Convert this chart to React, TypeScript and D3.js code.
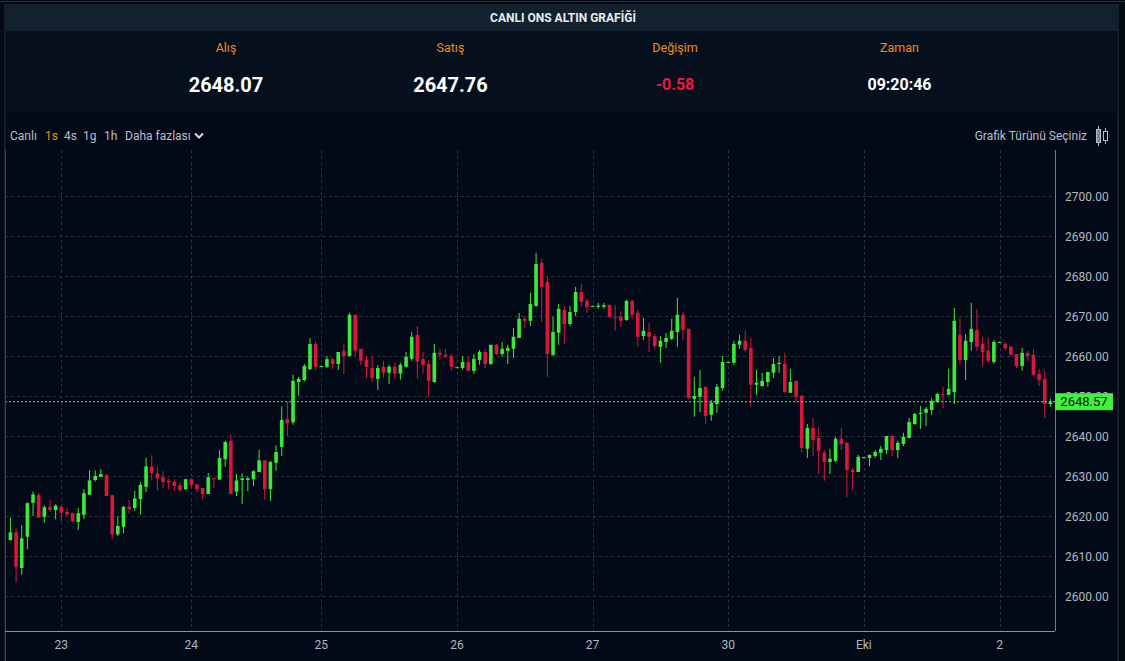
import * as d3 from 'd3';

// hourly candles (oldest first)
const OPEN = [
  2614.0, 2615.9, 2607.0, 2614.8, 2623.3, 2625.2, 2619.8, 2622.3, 2621.5, 2622.3,
  2621.0, 2620.7, 2618.5, 2620.3, 2625.3, 2629.0, 2629.8, 2630.2, 2625.2, 2615.4,
  2617.3, 2622.3, 2622.0, 2624.2, 2627.3, 2632.4, 2630.7, 2629.7, 2628.8, 2628.5,
  2627.7, 2626.7, 2629.2, 2627.9, 2627.0, 2625.5, 2629.5, 2629.1, 2634.2, 2638.8,
  2626.1, 2629.0, 2629.0, 2629.2, 2631.0, 2633.9, 2626.7, 2633.3, 2637.3, 2644.2,
  2643.4, 2653.5, 2654.0, 2656.7, 2663.0, 2657.3, 2657.3, 2659.2, 2658.0, 2661.3,
  2660.0, 2670.3, 2661.8, 2659.0, 2657.0, 2654.3, 2657.3, 2655.8, 2657.3, 2655.6,
  2657.3, 2659.3, 2665.3, 2659.3, 2658.0, 2653.5, 2660.8, 2660.3, 2660.0, 2657.1,
  2657.0, 2658.5, 2656.3, 2659.0, 2661.0, 2658.0, 2662.8, 2660.5, 2661.3, 2661.8,
  2664.5, 2669.3, 2668.8, 2672.5, 2683.3, 2678.5, 2660.3, 2665.8, 2671.5, 2668.0,
  2671.0, 2676.0, 2673.8, 2672.4, 2672.3, 2672.3, 2672.8, 2669.8, 2669.8, 2669.0,
  2673.8, 2670.8, 2665.0, 2666.0, 2665.0, 2662.3, 2663.5, 2664.3, 2666.0, 2670.3,
  2666.8, 2649.3, 2649.8, 2652.3, 2645.3, 2648.0, 2652.0, 2658.4, 2658.3, 2662.8,
  2663.8, 2662.0, 2652.8, 2652.5, 2653.5, 2655.8, 2658.0, 2658.0, 2650.8, 2653.8,
  2650.0, 2636.8, 2642.0, 2639.5, 2635.8, 2633.5, 2633.8, 2639.3, 2638.3, 2631.5,
  2631.0, 2634.6, 2634.5, 2635.0, 2635.8, 2636.5, 2640.0, 2636.5, 2638.0, 2639.5,
  2643.0, 2645.5, 2645.8, 2646.5, 2648.5, 2650.5, 2650.3, 2651.0, 2665.3, 2659.0,
  2663.5, 2666.5, 2663.0, 2661.3, 2658.5, 2663.4, 2663.0, 2662.3, 2660.5, 2657.5,
  2660.8, 2660.3, 2655.5, 2654.3, 2648.0,
];
const HIGH = [
  2619.6, 2616.9, 2617.7, 2623.4, 2626.1, 2625.9, 2622.7, 2624.0, 2622.9, 2622.5,
  2622.0, 2620.8, 2622.0, 2626.7, 2631.4, 2631.4, 2631.7, 2630.5, 2625.3, 2620.0,
  2622.5, 2624.0, 2626.3, 2628.5, 2634.6, 2635.2, 2632.4, 2631.2, 2629.4, 2629.2,
  2628.4, 2629.2, 2629.4, 2628.0, 2627.1, 2630.7, 2629.6, 2636.5, 2638.8, 2640.4,
  2630.5, 2630.7, 2629.9, 2631.4, 2636.5, 2633.9, 2633.8, 2637.7, 2647.4, 2648.6,
  2655.3, 2654.8, 2658.0, 2664.5, 2663.8, 2657.6, 2660.0, 2659.5, 2661.0, 2663.0,
  2670.8, 2670.3, 2661.8, 2660.0, 2660.0, 2657.8, 2658.8, 2657.8, 2658.3, 2658.3,
  2661.0, 2666.0, 2667.5, 2661.0, 2659.0, 2663.0, 2661.8, 2661.8, 2660.5, 2657.3,
  2660.0, 2659.8, 2660.5, 2661.5, 2661.8, 2662.8, 2663.0, 2663.5, 2662.8, 2667.0,
  2670.8, 2670.0, 2675.8, 2685.8, 2684.3, 2679.8, 2669.8, 2673.0, 2672.5, 2672.5,
  2677.3, 2678.0, 2674.3, 2672.6, 2673.3, 2673.3, 2672.8, 2672.8, 2671.0, 2674.0,
  2674.0, 2671.5, 2669.5, 2668.3, 2665.5, 2665.0, 2665.8, 2669.3, 2674.5, 2671.0,
  2666.8, 2654.8, 2656.5, 2652.3, 2649.0, 2653.0, 2660.0, 2658.6, 2663.8, 2665.3,
  2666.3, 2664.5, 2656.5, 2655.8, 2656.0, 2659.5, 2660.0, 2660.8, 2656.8, 2653.8,
  2650.3, 2643.0, 2644.5, 2642.3, 2636.5, 2636.8, 2639.8, 2642.0, 2638.5, 2632.0,
  2635.3, 2634.8, 2635.3, 2636.5, 2637.5, 2640.0, 2640.3, 2638.8, 2640.8, 2644.5,
  2645.8, 2647.5, 2647.3, 2649.5, 2650.8, 2652.3, 2656.8, 2672.0, 2669.5, 2665.5,
  2673.3, 2671.8, 2664.8, 2664.5, 2664.0, 2663.6, 2663.5, 2662.5, 2660.5, 2662.0,
  2661.3, 2661.8, 2656.8, 2656.3, 2649.3,
];
const LOW = [
  2613.8, 2603.4, 2605.3, 2611.7, 2620.0, 2619.5, 2618.3, 2621.0, 2619.2, 2618.8,
  2620.0, 2618.5, 2616.5, 2619.2, 2625.3, 2628.6, 2629.6, 2625.0, 2614.2, 2615.0,
  2615.7, 2620.6, 2621.3, 2620.3, 2626.0, 2628.9, 2626.3, 2627.0, 2626.7, 2626.3,
  2626.0, 2626.5, 2626.9, 2626.0, 2624.2, 2625.5, 2627.0, 2629.0, 2632.3, 2625.5,
  2625.0, 2623.0, 2626.2, 2627.5, 2631.0, 2624.0, 2623.8, 2631.3, 2635.0, 2640.0,
  2642.8, 2650.1, 2653.6, 2656.5, 2656.5, 2657.2, 2657.0, 2656.8, 2656.5, 2655.5,
  2659.8, 2660.0, 2657.8, 2654.5, 2653.5, 2651.5, 2654.6, 2653.0, 2654.3, 2654.1,
  2657.1, 2658.8, 2654.3, 2655.6, 2649.8, 2653.3, 2659.1, 2659.6, 2656.3, 2657.0,
  2656.6, 2656.3, 2655.5, 2657.8, 2657.0, 2657.8, 2660.3, 2659.8, 2658.0, 2659.5,
  2664.5, 2667.0, 2667.5, 2672.3, 2668.5, 2654.8, 2660.0, 2662.8, 2663.0, 2667.5,
  2670.0, 2672.3, 2670.8, 2672.3, 2671.8, 2671.8, 2669.5, 2666.3, 2667.3, 2668.8,
  2669.3, 2662.3, 2664.0, 2661.0, 2661.8, 2658.3, 2662.0, 2664.0, 2662.3, 2664.0,
  2649.3, 2644.8, 2646.0, 2643.0, 2643.8, 2645.8, 2651.3, 2658.3, 2657.8, 2661.8,
  2661.0, 2647.3, 2650.3, 2652.3, 2652.3, 2654.5, 2655.8, 2650.8, 2650.8, 2648.3,
  2635.8, 2634.5, 2635.0, 2630.5, 2628.8, 2630.5, 2633.5, 2636.5, 2624.8, 2626.5,
  2631.0, 2634.5, 2632.5, 2634.5, 2634.0, 2635.5, 2635.0, 2634.5, 2637.5, 2639.5,
  2642.8, 2641.8, 2642.5, 2645.3, 2648.3, 2647.0, 2650.3, 2648.0, 2657.8, 2654.0,
  2661.3, 2661.3, 2657.5, 2658.3, 2658.0, 2663.3, 2661.3, 2660.3, 2657.0, 2656.3,
  2658.8, 2655.0, 2652.5, 2644.5, 2647.3,
];
const CLOSE = [
  2615.9, 2607.3, 2614.4, 2623.2, 2625.4, 2619.6, 2622.2, 2621.5, 2622.6, 2620.8,
  2620.4, 2618.7, 2620.7, 2625.7, 2628.9, 2630.0, 2630.5, 2625.0, 2615.4, 2617.5,
  2622.3, 2621.7, 2624.4, 2627.8, 2632.4, 2630.7, 2629.4, 2628.5, 2628.4, 2627.5,
  2626.5, 2629.2, 2627.7, 2626.7, 2625.5, 2629.7, 2629.2, 2634.5, 2638.5, 2625.5,
  2628.9, 2629.4, 2629.4, 2631.2, 2633.9, 2626.7, 2633.5, 2636.0, 2644.0, 2643.2,
  2653.8, 2654.3, 2657.5, 2663.0, 2657.3, 2657.5, 2659.2, 2658.0, 2661.0, 2660.0,
  2670.3, 2661.3, 2658.8, 2657.3, 2654.5, 2657.0, 2655.8, 2657.3, 2655.6, 2657.8,
  2659.8, 2664.8, 2658.6, 2657.8, 2653.8, 2660.8, 2660.3, 2659.8, 2657.3, 2657.2,
  2658.5, 2656.3, 2659.3, 2661.0, 2658.0, 2662.8, 2660.5, 2661.8, 2662.0, 2664.8,
  2669.3, 2668.8, 2673.0, 2683.0, 2677.3, 2660.5, 2666.0, 2671.8, 2668.0, 2671.0,
  2676.0, 2673.5, 2672.3, 2672.5, 2672.6, 2672.7, 2669.8, 2669.6, 2668.8, 2673.8,
  2670.3, 2664.8, 2666.3, 2664.8, 2662.5, 2663.8, 2664.5, 2666.3, 2670.3, 2666.5,
  2649.5, 2650.0, 2652.0, 2645.0, 2648.3, 2652.3, 2658.5, 2658.5, 2663.0, 2663.8,
  2661.5, 2652.8, 2653.3, 2653.8, 2656.0, 2658.0, 2658.3, 2651.0, 2653.5, 2649.8,
  2637.0, 2642.0, 2639.0, 2636.3, 2633.5, 2634.3, 2639.3, 2638.0, 2631.5, 2631.0,
  2634.8, 2634.7, 2635.3, 2636.0, 2636.8, 2640.0, 2636.5, 2638.3, 2639.8, 2643.5,
  2645.5, 2645.8, 2646.8, 2648.8, 2650.5, 2650.3, 2651.8, 2668.8, 2659.0, 2663.8,
  2666.8, 2662.3, 2661.0, 2658.8, 2663.5, 2663.5, 2662.0, 2660.3, 2657.5, 2660.8,
  2660.0, 2655.3, 2654.0, 2648.0, 2648.57,
];

const DAY_TICK_INDEX = [9, 32, 55, 79, 103, 127, 151, 175];
const DAY_TICK_LABEL = ['23', '24', '25', '26', '27', '30', 'Eki', '2'];
const PRICE_TICKS = [2600, 2610, 2620, 2630, 2640, 2650, 2660, 2670, 2680, 2690, 2700];
const LAST_PRICE = 2648.57;

const STAT_LABELS = ['Alış', 'Satış', 'Değişim', 'Zaman'];
const STAT_VALUES = ['2648.07', '2647.76', '-0.58', '09:20:46'];
const PERIODS = ['Canlı', '1s', '4s', '1g', '1h', 'Daha fazlası'];
const ACTIVE_PERIOD = '1s';

const W = 1125;
const H = 661;
const PLOT = { left: 5, right: 1055, top: 150, bottom: 631 };
const STEP = 5.652;
const FIRST_X = 10.43;

const GREEN = '#3be83b';
const RED = '#d9163b';
const FONT = 'Roboto, "Noto Sans", sans-serif';

export default function App() {
  const n = CLOSE.length;
  const x = d3
    .scaleBand<number>()
    .domain(d3.range(n))
    .range([FIRST_X - STEP / 2, FIRST_X - STEP / 2 + n * STEP])
    .padding(0);
  const cx = (i: number) => (x(i) ?? 0) + x.bandwidth() / 2;
  const bodyW = x.bandwidth() * 0.64;

  const y = d3
    .scaleLinear()
    .domain([2660 - (PLOT.bottom - 356) / 4, 2660 + (356 - PLOT.top) / 4])
    .range([PLOT.bottom, PLOT.top]);

  const statX = d3.scaleLinear().domain([0, 1]).range([226, 450.5]);
  const periodX = [10, 45, 64, 83, 104, 125];
  const lastY = y(LAST_PRICE);

  return (
    <svg
      width={W}
      height={H}
      style={{ position: 'fixed', left: 0, top: 0, background: '#050b15' }}
      fontFamily={FONT}
    >
      <rect x={0} y={0} width={W} height={H} fill="#040a14" />
      <line x1={0} x2={W} y1={1.5} y2={1.5} stroke="#2b3240" />
      {/* card */}
      <rect x={5} y={5} width={1113} height={H} fill="#020a18" stroke="#2a3442" />
      <rect x={5.5} y={5.5} width={1112} height={26} fill="#13202e" />
      <text x={563} y={22} textAnchor="middle" fill="#e8ebef" fontSize={12} fontWeight={700}>
        CANLI ONS ALTIN GRAFİĞİ
      </text>
      <rect x={5.5} y={31} width={1112} height={82} fill="#06101d" />
      {STAT_LABELS.map((label, i) => (
        <g key={label}>
          <text x={statX(i)} y={52} textAnchor="middle" fill="#f08a22" fontSize={12.5}>
            {label}
          </text>
          <text
            x={statX(i)}
            y={i < 2 ? 92 : 90}
            textAnchor="middle"
            fill={STAT_VALUES[i].startsWith('-') ? '#ea1a3d' : '#ffffff'}
            fontSize={i < 2 ? 20 : 16}
            fontWeight={700}
          >
            {STAT_VALUES[i]}
          </text>
        </g>
      ))}

      {/* toolbar */}
      {PERIODS.map((p, i) => (
        <text
          key={p}
          x={periodX[i]}
          y={140}
          fill={p === ACTIVE_PERIOD ? '#f28a1c' : '#b9bec7'}
          fontSize={12}
        >
          {p}
        </text>
      ))}
      <path d="M195,133.5 L199,137.5 L203,133.5" fill="none" stroke="#d8dce2" strokeWidth={2} />
      <text x={1087} y={140} textAnchor="end" fill="#b9bec7" fontSize={12}>
        Grafik Türünü Seçiniz
      </text>
      <g stroke="#b9bec7" strokeWidth={1} fill="none">
        <line x1={1098.5} x2={1098.5} y1={126} y2={146} />
        <rect x={1096.5} y={129.5} width={4} height={13} fill="#7d838c" />
        <line x1={1105.5} x2={1105.5} y1={128} y2={144} />
        <rect x={1103.5} y={131.5} width={4} height={9} fill="#020a18" />
      </g>

      {/* grid */}
      <g stroke="#2a3343" strokeDasharray="3,3" strokeWidth={1}>
        {PRICE_TICKS.map((v) => (
          <line key={v} x1={PLOT.left} x2={PLOT.right} y1={Math.round(y(v)) + 0.5} y2={Math.round(y(v)) + 0.5} />
        ))}
        {DAY_TICK_INDEX.map((i) => (
          <line key={i} x1={Math.round(cx(i)) + 0.5} x2={Math.round(cx(i)) + 0.5} y1={PLOT.top} y2={PLOT.bottom} />
        ))}
      </g>

      {/* candles */}
      {CLOSE.map((c, i) => {
        const o = OPEN[i];
        const up = c >= o;
        const color = up ? GREEN : RED;
        const top = y(Math.max(o, c));
        const bot = y(Math.min(o, c));
        return (
          <g key={i}>
            <line x1={cx(i)} x2={cx(i)} y1={y(HIGH[i])} y2={y(LOW[i])} stroke={color} strokeWidth={1} />
            <rect x={cx(i) - bodyW / 2} y={top} width={bodyW} height={Math.max(1, bot - top)} fill={color} />
          </g>
        );
      })}

      {/* last price line */}
      <line
        x1={PLOT.left}
        x2={PLOT.right}
        y1={lastY}
        y2={lastY}
        stroke="#5ef05e"
        strokeDasharray="2,2"
        strokeWidth={1}
      />

      {/* axes */}
      <line x1={PLOT.left + 0.5} x2={PLOT.left + 0.5} y1={PLOT.top} y2={H} stroke="#3a4352" />
      <line x1={PLOT.right + 0.5} x2={PLOT.right + 0.5} y1={PLOT.top} y2={PLOT.bottom} stroke="#737a86" />
      <line x1={PLOT.left} x2={PLOT.right} y1={PLOT.bottom + 0.5} y2={PLOT.bottom + 0.5} stroke="#8a909b" />
      {PRICE_TICKS.map((v) => (
        <text key={v} x={1065} y={y(v) + 4.5} fill="#b4b9c1" fontSize={12}>
          {v.toFixed(2)}
        </text>
      ))}
      {DAY_TICK_INDEX.map((i, k) => (
        <text key={i} x={cx(i)} y={649} textAnchor="middle" fill="#b4b9c1" fontSize={12}>
          {DAY_TICK_LABEL[k]}
        </text>
      ))}
      <rect x={1055} y={lastY - 8.5} width={58} height={17} fill="#42ef42" />
      <text x={1084} y={lastY + 4.5} textAnchor="middle" fill="#0a1a0a" fontSize={13}>
        {LAST_PRICE.toFixed(2)}
      </text>
    </svg>
  );
}
